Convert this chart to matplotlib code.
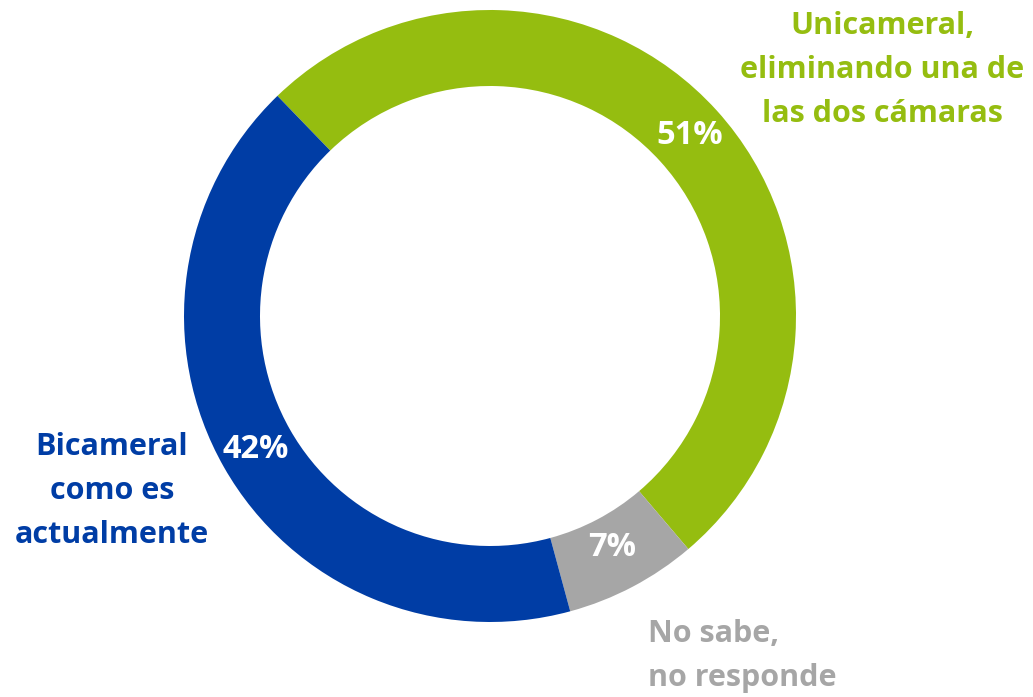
import matplotlib
matplotlib.use('Agg')
import matplotlib.pyplot as plt

labels = ['Unicameral,\neliminando una de\nlas dos cámaras', 'No sabe,\nno responde', 'Bicameral\ncomo es\nactualmente']
values = [51, 7, 42]
pct_labels = ['51%', '7%', '42%']
colors = ['#95bd10', '#a6a6a6', '#003da5']

W, H = 1033, 697
fig = plt.figure(figsize=(W / 100, H / 100), dpi=100)
ax = fig.add_axes([0, 0, 1, 1])

cx, cy, R = 490, H - 316, 306
width = 76
ax.pie(values, colors=colors, startangle=134, counterclock=False,
       center=(cx, cy), radius=R,
       wedgeprops=dict(width=width, edgecolor='none', linewidth=0))
ax.set_xlim(0, W)
ax.set_ylim(0, H)
ax.set_aspect('equal')
ax.axis('off')

font = dict(family='Open Sans', fontweight='bold')

# percentages inside the ring
pct_pos = [(690, 135), (612, 548), (256, 450)]
for (x, y), t in zip(pct_pos, pct_labels):
    ax.text(x, H - y, t, color='white', fontsize=23.5, ha='center', va='center', **font)

# category labels
ax.text(882, H - 70, labels[0], color=colors[0], fontsize=22, ha='center', va='center',
        linespacing=1.6, **font)
ax.text(648, H - 656, labels[1], color=colors[1], fontsize=22, ha='left', va='center',
        linespacing=1.6, **font)
ax.text(112, H - 491, labels[2], color=colors[2], fontsize=22, ha='center', va='center',
        linespacing=1.6, **font)

fig.savefig('out.png', dpi=100)
